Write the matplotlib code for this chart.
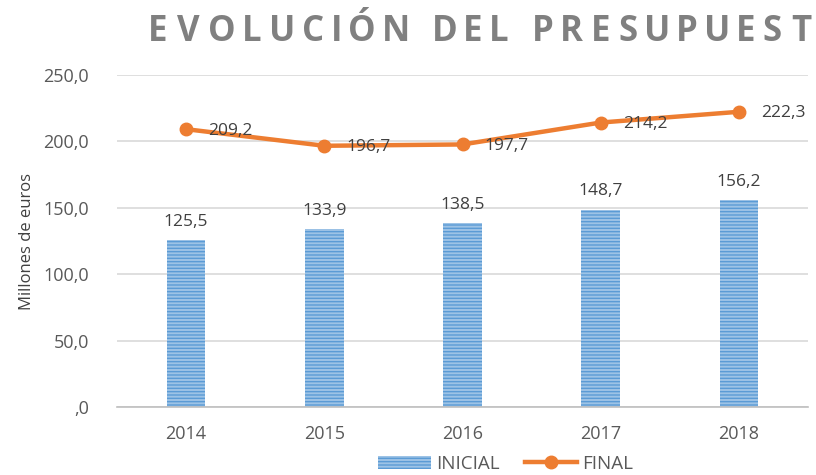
import matplotlib.pyplot as plt
from matplotlib.textpath import TextPath
from matplotlib.font_manager import FontProperties
from matplotlib.lines import Line2D
from matplotlib.patches import Patch

years = ["2014", "2015", "2016", "2017", "2018"]
inicial = [125.5, 133.9, 138.5, 148.7, 156.2]
final = [209.2, 196.7, 197.7, 214.2, 222.3]
title = "EVOLUCIÓN DEL PRESUPUEST"

plt.rcParams['font.family'] = ['Open Sans', 'DejaVu Sans']
grey = "#595959"
blue = "#9DC3E6"
orange = "#ED7D31"

fig = plt.figure(figsize=(8.16, 4.75), dpi=100)
ax = fig.add_axes([117 / 816, 68 / 475, 691 / 816, 332 / 475])

x = range(len(years))
bars = ax.bar(x, inicial, width=0.28, color=blue, edgecolor="#5B9BD5",
              hatch="-----", linewidth=0, zorder=2)
for i, v in enumerate(inicial):
    ax.annotate(f"{v:.1f}".replace(".", ","), (i, v), xytext=(0, 13),
                textcoords="offset points", ha="center", va="center",
                fontsize=12.5, color="#404040")

ax.plot(x, final, color=orange, linewidth=3.2, marker="o", markersize=9,
        zorder=3)
for i, v in enumerate(final):
    ax.annotate(f"{v:.1f}".replace(".", ","), (i, v), xytext=(16, -1),
                textcoords="offset points", ha="left", va="center",
                fontsize=12.5, color="#404040")

ax.set_xlim(-0.5, 4.5)
ax.set_ylim(0, 250)
ax.set_yticks([0, 50, 100, 150, 200, 250])
ax.set_yticklabels([",0" if t == 0 else f"{t:.1f}".replace(".", ",")
                    for t in [0, 50, 100, 150, 200, 250]])
ax.set_xticks(list(x))
ax.set_xticklabels(years)
ax.tick_params(axis="both", length=0, labelsize=13, labelcolor=grey)
ax.tick_params(axis="y", pad=20)
ax.tick_params(axis="x", pad=13)
ax.yaxis.grid(True, color="#D9D9D9", linewidth=1.2, zorder=0)
ax.set_axisbelow(True)
for s in ["top", "right", "left"]:
    ax.spines[s].set_visible(False)
ax.spines["bottom"].set_color("#BFBFBF")
ax.spines["bottom"].set_linewidth(1.2)
ax.set_ylabel("Millones de euros", fontsize=12, color="#404040", labelpad=6)

# title with wide letter spacing, drawn char by char (ink-to-ink gap)
fp = FontProperties(family="Open Sans", weight="bold", size=25)
xpos = 151.0
for ch in title:
    if ch == " ":
        xpos += 16
        continue
    ext = TextPath((0, 0), ch, prop=fp).get_extents()
    fig.text((xpos - ext.x0 * 100 / 72) / 816, 1 - 41 / 475, ch,
             fontproperties=fp, color="#808080", ha="left", va="baseline")
    xpos += ext.width * 100 / 72 + 11.3

handles = [Patch(facecolor=blue, edgecolor="#5B9BD5", hatch="-----", linewidth=0),
           Line2D([], [], color=orange, linewidth=3.2, marker="o", markersize=9)]
fig.legend(handles, ["INICIAL", "FINAL"], loc="center", ncol=2,
           bbox_to_anchor=(506 / 816, 11 / 475), frameon=False, fontsize=13.5,
           labelcolor=grey, handlelength=2.8, columnspacing=1.3,
           handletextpad=0.3)

fig.savefig("out.png", dpi=100)
